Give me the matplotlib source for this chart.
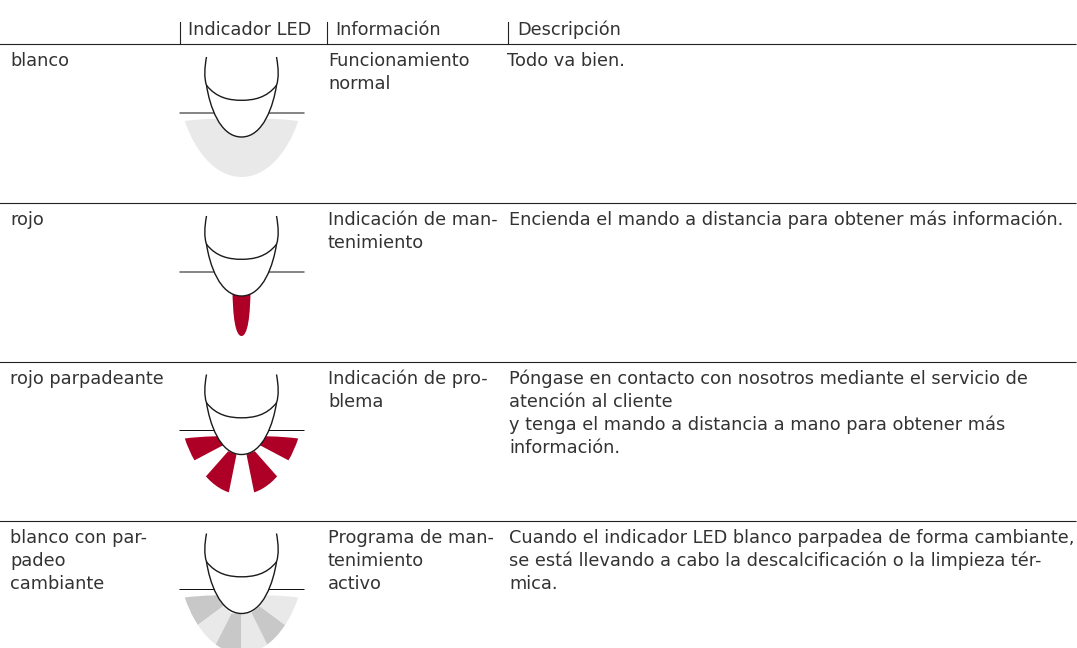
"""LED-Indikator Tabelle: Leuchtmuster des Geraets je Zustand."""

import matplotlib
matplotlib.use("Agg")
import matplotlib.pyplot as plt
from matplotlib.patches import PathPatch, Polygon
from matplotlib.path import Path

plt.rcParams["font.family"] = ["DejaVu Sans"]

W, H = 1077, 648
FONT_SIZE = 12.8
TEXT = "#333333"
RED = "#ae0026"
LIGHT = "#e9e9e9"
MID = "#c8c8c8"

HEADERS = ["Indicador LED", "Información", "Descripción"]
HEADER_X = [188, 335, 517]
HEADER_TICK_X = [180, 327, 508]

COL_STATE = [
    ["blanco"],
    ["rojo"],
    ["rojo parpadeante"],
    ["blanco con par-", "padeo", "cambiante"],
]
COL_INFO = [
    ["Funcionamiento", "normal"],
    ["Indicación de man-", "tenimiento"],
    ["Indicación de pro-", "blema"],
    ["Programa de man-", "tenimiento", "activo"],
]
COL_DESC = [
    ["Todo va bien."],
    ["Encienda el mando a distancia para obtener más información."],
    ["Póngase en contacto con nosotros mediante el servicio de",
     "atención al cliente",
     "y tenga el mando a distancia a mano para obtener más",
     "información."],
    ["Cuando el indicador LED blanco parpadea de forma cambiante,",
     "se está llevando a cabo la descalcificación o la limpieza tér-",
     "mica."],
]
DESC_X = [507, 509, 509, 509]
RULE_Y = [44.5, 203.5, 362.5, 521.5]
FIRST_BASELINE = [66, 225, 384, 543]
ICON_LINE_Y = [113, 272, 430.5, 589.5]
LINE_STEP = 23

# Form der Lichtkegel, relativ zur Mitte
GLOW = Path(
    [(-56.7, 8), (-38, 5.5), (-18, 5.5), (0, 5.5), (18, 5.5), (38, 5.5), (56.7, 8),
     (46, 40), (25, 64), (0, 64), (-25, 64), (-46, 40), (-56.7, 8), (-56.7, 8)],
    [Path.MOVETO] + [Path.CURVE4] * 12 + [Path.CLOSEPOLY],
)
TONGUE = Path(
    [(-9, 15), (9, 15), (9, 45), (6, 64), (0, 64), (-6, 64), (-9, 45), (-9, 15), (-9, 15)],
    [Path.MOVETO, Path.LINETO] + [Path.CURVE4] * 6 + [Path.CLOSEPOLY],
)
BLINK_WEDGES = [
    [(-80, 0), (0, 0), (-18.3, 14.7), (-70, 42)],
    [(-13.3, 20.7), (-56, 69), (-16.3, 80), (-5, 24)],
    [(13.3, 20.7), (56, 69), (16.3, 80), (5, 24)],
    [(80, 0), (0, 0), (18.3, 14.7), (70, 42)],
]
FAN_WEDGES = [
    ([(-80, 0), (0, 0), (-18.3, 16.7), (-70, 55)], MID),
    ([(-70, 55), (-18.3, 16.7), (-10, 24), (-39, 81)], LIGHT),
    ([(-39, 81), (-10, 24), (0, 24), (0, 81)], MID),
    ([(0, 81), (0, 24), (10, 23.3), (38, 80)], LIGHT),
    ([(38, 80), (10, 23.3), (18.3, 16.7), (70, 55)], MID),
    ([(70, 55), (18.3, 16.7), (0, 0), (80, 0)], LIGHT),
]


def shifted(path, cx, cy):
    return Path(path.vertices + (cx, cy), path.codes)


def draw_finger(ax, cx, cy):
    """Zeichnet Linie und Fingerkuppe, die Form liegt ueber dem Lichtkegel."""
    ax.plot([cx - 61.5, cx + 62.5], [cy, cy], color="#111111", lw=0.72, zorder=3, snap=False)
    finger = Path(
        [(-35, -56), (-37, -45), (-37.5, -35), (-35, -27.7),
         (-32, -8), (-22, 24), (0, 24), (22, 24), (32, -8), (35, -27.7),
         (37.5, -35), (37, -45), (35, -56)],
        [Path.MOVETO] + [Path.CURVE4] * 12,
    )
    ax.add_patch(PathPatch(shifted(finger, cx, cy), fc="white", ec="#1a1a1a", lw=1.0, zorder=4))
    waist = Path([(-35, -27.7), (-25, -15), (-12, -12.7), (0, -12.7),
                  (12, -12.7), (25, -15), (35, -27.7)],
                 [Path.MOVETO] + [Path.CURVE4] * 6)
    ax.add_patch(PathPatch(shifted(waist, cx, cy), fc="none", ec="#1a1a1a", lw=1.0, zorder=5))


def draw_clipped_wedges(ax, wedges, cx, cy):
    glow = shifted(GLOW, cx, cy)
    for points, color in wedges:
        poly = Polygon([(x + cx, y + cy) for x, y in points], fc=color, ec="none", zorder=2)
        ax.add_patch(poly)
        poly.set_clip_path(glow, ax.transData)


fig = plt.figure(figsize=(W / 100, H / 100), dpi=100)
ax = fig.add_axes([0, 0, 1, 1])
ax.set_xlim(0, W)
ax.set_ylim(H, 0)
ax.axis("off")

for y in RULE_Y:
    ax.plot([0, 1076], [y, y], color="#222222", lw=0.8, snap=False)

for label, x, tick_x in zip(HEADERS, HEADER_X, HEADER_TICK_X):
    ax.plot([tick_x, tick_x], [22, 44], color="#222222", lw=0.8)
    ax.text(x, 35, label, fontsize=FONT_SIZE, color=TEXT, va="baseline")

for i, y0 in enumerate(FIRST_BASELINE):
    for x, lines in ((10, COL_STATE[i]), (328, COL_INFO[i]), (DESC_X[i], COL_DESC[i])):
        for k, line in enumerate(lines):
            ax.text(x, y0 + k * LINE_STEP, line, fontsize=FONT_SIZE, color=TEXT, va="baseline")

cx = 241.5
ax.add_patch(PathPatch(shifted(GLOW, cx, ICON_LINE_Y[0]), fc=LIGHT, ec="none", zorder=2))
ax.add_patch(PathPatch(shifted(TONGUE, cx, ICON_LINE_Y[1]), fc=RED, ec="none", zorder=2))
draw_clipped_wedges(ax, [(w, RED) for w in BLINK_WEDGES], cx, ICON_LINE_Y[2])
draw_clipped_wedges(ax, FAN_WEDGES, cx, ICON_LINE_Y[3])
for y in ICON_LINE_Y:
    draw_finger(ax, cx, y)

fig.savefig("out.png", dpi=100)
